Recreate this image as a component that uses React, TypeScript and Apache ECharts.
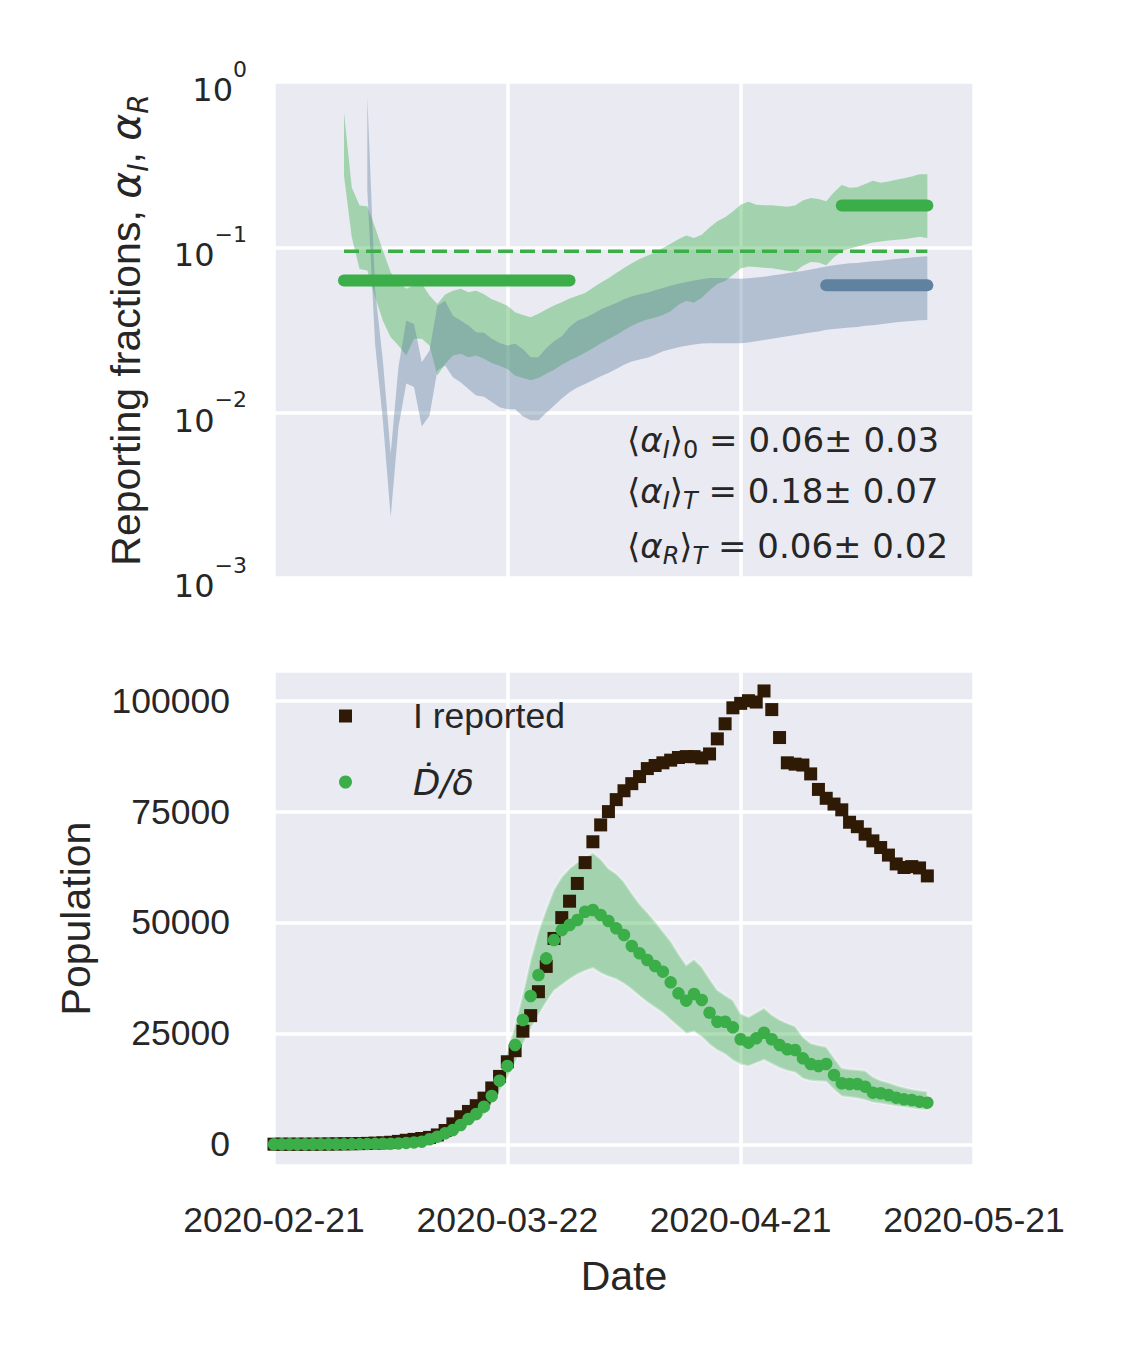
import React, { useEffect, useRef } from 'react';
import * as echarts from 'echarts';

// ---------- tick labels ----------
const xTickLabels = ['2020-02-21', '2020-03-22', '2020-04-21', '2020-05-21'];

// ---------- bottom panel (day 0 = 2020-02-21) ----------
const iReported = [
  20, 20, 20, 20, 25, 30, 40, 60, 80, 100, 120, 150, 200, 260, 330, 450, 650, 900, 1100, 1300,
  1550, 2100, 3100, 4600, 6200, 7400, 8700, 10400, 12700, 15300,
  18600, 21100, 25500, 29000, 34400, 40100, 46400, 51100, 54800, 58800,
  63500, 68200, 72000, 75000, 77700, 79700, 81300, 82900, 84700, 85400,
  86000, 86600, 87200, 87400, 87400, 87100, 88000, 91400, 94800, 98400,
  99400, 100000, 99700, 102200, 98000, 91700, 86000, 85700, 85500, 83500,
  80000, 78000, 76700, 75400, 72600, 71600, 69900, 68400, 66900, 65200,
  63200, 62400, 62600, 62300, 60500,
];

const dDelta = [
  0, 0, 0, 0, 0, 5, 10, 15, 20, 30, 40, 50, 70, 90, 110, 140, 200, 300, 420,
  590, 1130, 1710, 2480, 3220, 4350, 5700, 6830, 8480, 10890,
  14340, 17650, 22380, 28020, 33430, 38160, 41920, 46050, 48300, 49430,
  50560, 52430, 52810, 51690, 50330, 48680, 47180, 44700, 43050, 41540,
  40190, 38910, 36510, 34030, 32370, 33880, 32530, 29660, 27630, 27630,
  26370, 23670, 22900, 23890, 25150, 23670, 22380, 21410, 21250, 19380,
  18100, 17650, 18100, 15620, 13750, 13590, 13590, 12980, 11630, 11500,
  11110, 10500, 10140, 9980, 9600, 9380,
];

const dDeltaLo = [
  0, 0, 0, 0, 0, 3, 6, 10, 14, 20, 28, 35, 48, 62, 76, 97, 140, 210, 290,
  450, 850, 1300, 1900, 2500, 3300, 4400, 5300, 6600, 9000,
  11900, 15000, 18300, 22500, 26000, 29100, 32000, 34600, 35900, 37200,
  38300, 39100, 39700, 38600, 37800, 37200, 36200, 34900, 33400, 32000,
  30800, 29600, 28000, 26500, 25000, 25400, 24200, 22500, 21200, 20300,
  18900, 18000, 17600, 18300, 19000, 18100, 17200, 16600, 16200, 14800,
  14300, 14200, 14100, 12300, 10800, 10600, 10400, 10000, 9400, 9200,
  8900, 8600, 8400, 8100, 7900, 7700,
];

const dDeltaHi = [
  0, 0, 0, 0, 0, 7, 14, 20, 26, 40, 52, 65, 92, 118, 144, 183, 260, 390, 550,
  750, 1400, 2100, 3000, 4000, 5400, 7000, 8400, 10000, 12000,
  16000, 20800, 27000, 34000, 41700, 48000, 53000, 57500, 60300, 62200,
  63600, 64700, 65700, 64300, 62200, 61000, 59200, 56600, 54200, 52300,
  50200, 48000, 45800, 43000, 40400, 41700, 40000, 37300, 34800, 33600,
  32500, 29500, 28700, 29700, 30700, 29200, 28100, 27300, 26600, 24200,
  22800, 22300, 22000, 19500, 17200, 16900, 16800, 16600, 15200, 14400,
  13900, 13300, 12800, 12400, 12100, 11900,
];

// ---------- top panel ----------
const alphaIStart = 9; // first day of alpha_I band
const alphaIHi = [
  0.654, 0.23, 0.179, 0.177, 0.132, 0.0955, 0.0706, 0.0615, 0.0561, 0.0588,
  0.0602, 0.0511, 0.0455, 0.0518, 0.0547, 0.0561, 0.0535, 0.0547, 0.052, 0.0485,
  0.0465, 0.0444, 0.0405, 0.039, 0.0378, 0.0396, 0.042, 0.0445, 0.0465, 0.049,
  0.051, 0.053, 0.057, 0.061, 0.065, 0.07, 0.075, 0.08, 0.085, 0.089,
  0.093, 0.099, 0.105, 0.112, 0.118, 0.114, 0.119, 0.132, 0.144, 0.152,
  0.165, 0.181, 0.189, 0.181, 0.18, 0.18, 0.178, 0.176, 0.179, 0.192,
  0.199, 0.196, 0.19, 0.215, 0.238, 0.229, 0.231, 0.242, 0.253, 0.246,
  0.25, 0.256, 0.262, 0.268, 0.277, 0.277,
];
const alphaILo = [
  0.271, 0.115, 0.074, 0.0723, 0.05, 0.036, 0.0286, 0.0255, 0.0222, 0.028,
  0.028, 0.0255, 0.0168, 0.0197, 0.0222, 0.0227, 0.0216, 0.0222, 0.0212, 0.02,
  0.0192, 0.0184, 0.0168, 0.0162, 0.0157, 0.0162, 0.0172, 0.0182, 0.0195, 0.0207,
  0.0218, 0.023, 0.0245, 0.0262, 0.0278, 0.0295, 0.0315, 0.0335, 0.0352, 0.0366,
  0.0377, 0.039, 0.041, 0.045, 0.0475, 0.0462, 0.0495, 0.055, 0.06, 0.0625,
  0.068, 0.0745, 0.0765, 0.076, 0.0752, 0.0746, 0.0735, 0.0722, 0.0713, 0.0775,
  0.0815, 0.081, 0.078, 0.087, 0.095, 0.098, 0.101, 0.104, 0.107, 0.1085,
  0.11, 0.111, 0.112, 0.114, 0.116, 0.114,
];

const alphaRStart = 12; // first day of alpha_R band
const alphaRHi = [
  0.805, 0.055, 0.0206, 0.00565, 0.0188, 0.0361, 0.0344, 0.0202, 0.0238, 0.0443,
  0.0476, 0.0386, 0.0361, 0.0337, 0.0306, 0.0304, 0.028, 0.0264, 0.0255, 0.0261,
  0.0243, 0.0216, 0.0216, 0.0245, 0.027, 0.029, 0.033, 0.036, 0.0375, 0.0395,
  0.042, 0.044, 0.046, 0.0485, 0.0505, 0.052, 0.0532, 0.055, 0.0568, 0.0585,
  0.0603, 0.0618, 0.063, 0.0642, 0.0652, 0.0652, 0.065, 0.0647, 0.0645, 0.065,
  0.0657, 0.0665, 0.0675, 0.0685, 0.0697, 0.071, 0.072, 0.0735, 0.075, 0.0765,
  0.078, 0.079, 0.08, 0.0805, 0.0815, 0.0823, 0.083, 0.084, 0.085, 0.086,
  0.0868, 0.0876, 0.0883,
];
const alphaRLo = [
  0.22, 0.026, 0.00897, 0.00234, 0.00817, 0.015, 0.0143, 0.00826, 0.0096, 0.018,
  0.0193, 0.0164, 0.0153, 0.0139, 0.0127, 0.0125, 0.0116, 0.0108, 0.0105, 0.0105,
  0.0095, 0.009, 0.009, 0.01, 0.011, 0.0122, 0.0133, 0.0142, 0.0149, 0.0157,
  0.0166, 0.0174, 0.0184, 0.0195, 0.0204, 0.021, 0.0215, 0.0224, 0.0235, 0.0242,
  0.0249, 0.0254, 0.0258, 0.0262, 0.0263, 0.0263, 0.0263, 0.0263, 0.0263, 0.0266,
  0.027, 0.0275, 0.028, 0.0285, 0.029, 0.0295, 0.03, 0.0305, 0.031, 0.0317,
  0.0321, 0.0324, 0.0327, 0.033, 0.0335, 0.0338, 0.0343, 0.0348, 0.0352, 0.0356,
  0.0359, 0.0362, 0.0364,
];

// mean reporting fractions and their windows [startDay, endDay]
const alphaIMean0 = 0.063;
const alphaIMeanT = 0.179;
const alphaRMeanT = 0.059;
const alphaIDashed = 0.0946;
const windowEarly = [9, 38];
const windowLateI = [73, 84];
const windowLateR = [71, 84];
const windowDashed = [9, 84];

const annotationLines = [
  { a: 'I', b: '0', bItalic: false, val: '0.06± 0.03' },
  { a: 'I', b: 'T', bItalic: true, val: '0.18± 0.07' },
  { a: 'R', b: 'T', bItalic: true, val: '0.06± 0.02' },
];

// ---------- styles ----------
const TEXT = '#262626';
const BG = '#EAEAF2';
const GREEN = '#3bae49';
const BLUE = '#5f82a0';
const BROWN = '#2e1a05';
const SANS = 'Liberation Sans, Arial, sans-serif';
const MATH = 'DejaVu Sans, sans-serif';
const D_NAME = 'Ḋ/δ';
const I_NAME = 'I reported';

function bandSeries(
  xAxisIndex: number,
  yAxisIndex: number,
  start: number,
  lo: number[],
  hi: number[],
  fill: string,
  stroke: string | null,
  lineWidth: number,
  z: number
) {
  return {
    type: 'custom',
    xAxisIndex,
    yAxisIndex,
    z,
    silent: true,
    clip: true,
    data: [[start, hi[0]]],
    renderItem: (_params: any, api: any) => {
      const pts: number[][] = [];
      for (let i = 0; i < hi.length; i++) pts.push(api.coord([start + i, hi[i]]));
      for (let i = lo.length - 1; i >= 0; i--) pts.push(api.coord([start + i, lo[i]]));
      return {
        type: 'polygon',
        shape: { points: pts },
        style: stroke ? { fill, stroke, lineWidth } : { fill },
      };
    },
  };
}

function hLine(win: number[], value: number, color: string, width: number, z: number, dashed = false) {
  return {
    type: 'line',
    xAxisIndex: 0,
    yAxisIndex: 0,
    z,
    silent: true,
    symbol: 'none',
    data: [
      [win[0], value],
      [win[1], value],
    ],
    lineStyle: { color, width, cap: dashed ? 'butt' : 'round', type: dashed ? [15, 7] : 'solid' },
  };
}

function seriesPairs(values: number[], start = 0) {
  return values.map((v, i) => [start + i, v]);
}

export default function App() {
  const ref = useRef<HTMLDivElement>(null);

  useEffect(() => {
    if (!ref.current) return;
    const chart = echarts.init(ref.current, undefined, { renderer: 'svg' });

    const splitLine = { show: true, lineStyle: { color: '#ffffff', width: 3.5 } };

    const annotation = annotationLines.map((ln, k) => ({
      type: 'text',
      x: 627,
      y: [440, 491, 546][k],
      z: 100,
      style: {
        text: `{t|⟨}{a|α}{s|${ln.a}}{t|⟩}{${ln.bItalic ? 's' : 'u'}|${ln.b}}{t| = ${ln.val}}`,
        align: 'left',
        verticalAlign: 'middle',
        fill: TEXT,
        rich: {
          t: { fontSize: 34, fontFamily: MATH, lineHeight: 44, verticalAlign: 'middle', fill: TEXT },
          a: { fontSize: 34, fontFamily: MATH, fontStyle: 'italic', lineHeight: 44, verticalAlign: 'middle', fill: TEXT },
          s: { fontSize: 24, fontFamily: MATH, fontStyle: 'italic', lineHeight: 24, verticalAlign: 'bottom', fill: TEXT },
          u: { fontSize: 24, fontFamily: MATH, lineHeight: 24, verticalAlign: 'bottom', fill: TEXT },
        },
      },
    }));

    const option: any = {
      animation: false,
      textStyle: { fontFamily: SANS, color: TEXT },
      grid: [
        { left: 274, top: 82, width: 700, height: 496, show: true, backgroundColor: BG, borderWidth: 0 },
        { left: 274, top: 671, width: 700, height: 495, show: true, backgroundColor: BG, borderWidth: 0 },
      ],
      xAxis: [
        {
          gridIndex: 0,
          type: 'value',
          min: 0,
          max: 90,
          interval: 30,
          axisLine: { show: false },
          axisTick: { show: false },
          axisLabel: { show: false },
          splitLine,
        },
        {
          gridIndex: 1,
          type: 'value',
          min: 0,
          max: 90,
          interval: 30,
          axisLine: { show: false },
          axisTick: { show: false },
          axisLabel: {
            formatter: (v: number) => xTickLabels[Math.round(v / 30)] ?? '',
            fontSize: 35.5,
            fontFamily: SANS,
            color: TEXT,
            margin: 36,
            showMinLabel: true,
            showMaxLabel: true,
          },
          splitLine,
          name: 'Date',
          nameLocation: 'middle',
          nameGap: 89,
          nameTextStyle: { fontSize: 41, fontFamily: SANS, color: TEXT, lineHeight: 41 },
        },
      ],
      yAxis: [
        {
          gridIndex: 0,
          type: 'log',
          logBase: 10,
          min: 0.001,
          max: 1,
          axisLine: { show: false },
          axisTick: { show: false },
          splitLine,
          axisLabel: {
            margin: 27,
            showMinLabel: true,
            showMaxLabel: true,
            formatter: (v: number) => {
              const e = Math.round(Math.log10(v));
              const sup = e === 0 ? '0' : '−' + Math.abs(e);
              return `{b|10}{s|${sup}}`;
            },
            rich: {
              b: { fontSize: 32, fontFamily: MATH, color: TEXT, padding: [16, 0, 0, 0], verticalAlign: 'bottom' },
              s: { fontSize: 22, fontFamily: MATH, color: TEXT, lineHeight: 22, verticalAlign: 'top' },
            },
          },
          name: 'Reporting fractions, {m|α}{s|I}, {m|α}{s|R}',
          nameLocation: 'middle',
          nameRotate: 90,
          nameGap: 122,
          nameTextStyle: {
            fontSize: 41,
            fontFamily: SANS,
            color: TEXT,
            lineHeight: 52,
            rich: {
              m: { fontSize: 41, fontFamily: MATH, fontStyle: 'italic', color: TEXT, lineHeight: 52 },
              s: { fontSize: 28, fontFamily: MATH, fontStyle: 'italic', color: TEXT, lineHeight: 30, verticalAlign: 'bottom' },
            },
          },
        },
        {
          gridIndex: 1,
          type: 'value',
          min: -4900,
          max: 106700,
          minInterval: 25000,
          maxInterval: 25000,
          axisLine: { show: false },
          axisTick: { show: false },
          splitLine,
          axisLabel: {
            margin: 44,
            fontSize: 35.5,
            fontFamily: SANS,
            color: TEXT,
            showMinLabel: false,
            showMaxLabel: false,
            formatter: (v: number) => (Math.abs(v % 25000) < 1e-6 ? String(v) : ''),
          },
          name: 'Population',
          nameLocation: 'middle',
          nameRotate: 90,
          nameGap: 178,
          nameTextStyle: { fontSize: 41, fontFamily: SANS, color: TEXT, lineHeight: 41 },
        },
      ],
      legend: {
        orient: 'vertical',
        left: 339,
        top: 698,
        padding: 0,
        itemWidth: 13,
        itemHeight: 13,
        itemGap: 30,
        selectedMode: false,
        data: [I_NAME, D_NAME],
        formatter: (name: string) => (name === D_NAME ? `{m|${name}}` : `{n|${name}}`),
        textStyle: {
          color: TEXT,
          fontSize: 35.5,
          padding: [0, 0, 0, 56],
          rich: {
            n: { fontSize: 35.5, fontFamily: SANS, color: TEXT, lineHeight: 40 },
            m: { fontSize: 35.5, fontFamily: MATH, fontStyle: 'italic', color: TEXT, lineHeight: 40 },
          },
        },
      },
      graphic: annotation,
      series: [
        bandSeries(0, 0, alphaIStart, alphaILo, alphaIHi, 'rgba(58,174,73,0.4)', null, 0, 1),
        bandSeries(0, 0, alphaRStart, alphaRLo, alphaRHi, 'rgba(95,130,160,0.4)', null, 0, 2),
        hLine(windowDashed, alphaIDashed, GREEN, 3.5, 3, true),
        hLine(windowEarly, alphaIMean0, GREEN, 12, 4),
        hLine(windowLateI, alphaIMeanT, GREEN, 12, 4),
        hLine(windowLateR, alphaRMeanT, BLUE, 12, 4),
        bandSeries(1, 1, 0, dDeltaLo, dDeltaHi, 'rgba(58,174,73,0.4)', 'rgba(255,255,255,0.35)', 2.5, 1),
        {
          name: I_NAME,
          type: 'scatter',
          xAxisIndex: 1,
          yAxisIndex: 1,
          z: 3,
          symbol: 'rect',
          symbolSize: 13,
          itemStyle: { color: BROWN, opacity: 1 },
          data: seriesPairs(iReported),
        },
        {
          name: D_NAME,
          type: 'scatter',
          xAxisIndex: 1,
          yAxisIndex: 1,
          z: 4,
          symbol: 'circle',
          symbolSize: 12.5,
          itemStyle: { color: GREEN, opacity: 1 },
          data: seriesPairs(dDelta),
        },
      ],
    };

    chart.setOption(option);
    return () => chart.dispose();
  }, []);

  return <div ref={ref} style={{ position: 'absolute', left: 0, top: 0, width: 1125, height: 1350 }} />;
}
